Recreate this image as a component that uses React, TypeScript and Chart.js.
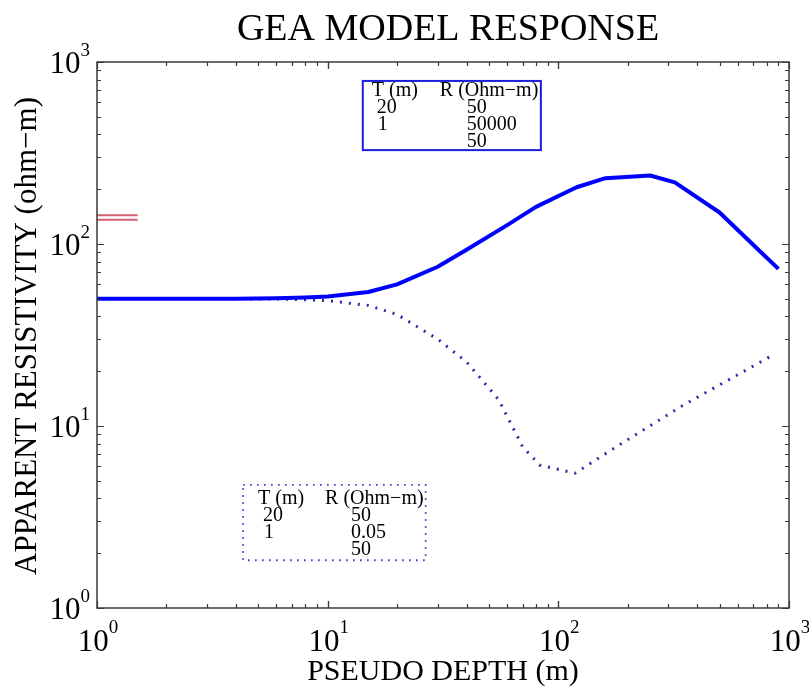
import React, { useEffect, useRef } from "react";
import { Chart, registerables } from "chart.js";

Chart.register(...registerables);

// ---- data ----
const depthA = [1, 2, 4, 6, 8, 10, 15, 20, 30, 40, 60, 80, 120, 160, 250, 320, 500, 750, 900];
const rhoA = [50, 50, 50, 50.3, 50.8, 51.5, 54.5, 60, 75, 93, 127, 160, 205, 230, 238, 218, 149, 91, 73];
const depthB = [1, 2, 4, 6, 8, 10, 15, 20, 30, 40, 55, 70, 83, 118, 173, 340, 850];
const rhoB = [50, 50, 50, 49.8, 49.4, 48.8, 46, 41, 30, 22.5, 14, 7.7, 6.1, 5.5, 7.5, 12.8, 24.5];
const markerDepth = [1, 1.5];
const markerUpper = [144, 144];
const markerLower = [136, 136];
const decadeValues = [1, 10, 100, 1000];
const decadeExponents = ["0", "1", "2", "3"];
const modelHeader = ["T (m)", "R (Ohm\u2212m)"];
const thicknessA = ["20", "1", ""];
const resistA = ["50", "50000", "50"];
const thicknessB = ["20", "1", ""];
const resistB = ["50", "0.05", "50"];

const TITLE = "GEA MODEL RESPONSE";
const XLABEL = "PSEUDO DEPTH (m)";
const YLABEL = "APPARENT RESISTIVITY (ohm\u2212m)";

const SERIF = '"Liberation Serif", "Times New Roman", serif';

const decoPlugin = {
  id: "deco",
  afterDatasetsDraw(chart: any) {
    const { ctx, chartArea: a, scales } = chart;
    const xs = scales.x;
    const ys = scales.y;
    ctx.save();
    // frame
    ctx.strokeStyle = "#3a3a3a";
    ctx.lineWidth = 1.5;
    ctx.setLineDash([]);
    ctx.strokeRect(a.left, a.top, a.right - a.left, a.bottom - a.top);
    // ticks (inward, all four sides)
    ctx.lineWidth = 1.2;
    for (let d = 0; d < 3; d++) {
      for (let m = 1; m <= 10; m++) {
        const v = decadeValues[d] * m;
        const major = m === 1 || m === 10;
        const len = major ? 7 : 4;
        const px = Math.round(xs.getPixelForValue(v)) + 0.5;
        const py = Math.round(ys.getPixelForValue(v)) + 0.5;
        ctx.beginPath();
        ctx.moveTo(px, a.bottom);
        ctx.lineTo(px, a.bottom - len);
        ctx.moveTo(px, a.top);
        ctx.lineTo(px, a.top + len);
        ctx.moveTo(a.left, py);
        ctx.lineTo(a.left + len, py);
        ctx.moveTo(a.right, py);
        ctx.lineTo(a.right - len, py);
        ctx.stroke();
      }
    }
    // tick labels
    ctx.fillStyle = "#000";
    const bigFont = "31px " + SERIF;
    const supFont = "19px " + SERIF;
    decadeValues.forEach((v, i) => {
      const exp = decadeExponents[i];
      ctx.font = bigFont;
      const w1 = ctx.measureText("10").width;
      ctx.font = supFont;
      const w2 = ctx.measureText(exp).width;
      // x labels
      const px = xs.getPixelForValue(v);
      const start = px - (w1 + w2) / 2 + 1;
      ctx.textAlign = "left";
      ctx.textBaseline = "alphabetic";
      ctx.font = bigFont;
      ctx.fillText("10", start, a.bottom + 43);
      ctx.font = supFont;
      ctx.fillText(exp, start + w1, a.bottom + 25);
      // y labels
      const py = ys.getPixelForValue(v);
      const right = a.left - 7;
      ctx.font = supFont;
      ctx.fillText(exp, right - w2, py - 6);
      ctx.font = bigFont;
      ctx.fillText("10", right - w2 - w1, py + 11);
    });
    // title
    ctx.textAlign = "center";
    ctx.font = "38px " + SERIF;
    ctx.fillText(TITLE, (a.left + a.right) / 2 + 5, 40);
    // x label
    ctx.font = "30px " + SERIF;
    ctx.fillText(XLABEL, (a.left + a.right) / 2, a.bottom + 72);
    // y label
    ctx.save();
    ctx.translate(36, (a.top + a.bottom) / 2 + 1);
    ctx.rotate(-Math.PI / 2);
    ctx.font = "31px " + SERIF;
    ctx.fillText(YLABEL, 0, 0);
    ctx.restore();

    // model boxes
    const drawBox = (
      x0: number, x1: number, y0: number, y1: number, dotted: boolean,
      tCol: string[], rCol: string[], off: any
    ) => {
      const L = xs.getPixelForValue(x0);
      const R = xs.getPixelForValue(x1);
      const T = ys.getPixelForValue(y0);
      const B = ys.getPixelForValue(y1);
      ctx.save();
      if (dotted) {
        ctx.strokeStyle = "#2c2cc0";
        ctx.lineWidth = 1.8;
        ctx.setLineDash([1.5, 5.5]);
      } else {
        ctx.strokeStyle = "#1c1cdc";
        ctx.lineWidth = 2;
        ctx.setLineDash([]);
      }
      ctx.strokeRect(L, T, R - L, B - T);
      ctx.restore();
      ctx.fillStyle = "#000";
      ctx.textAlign = "left";
      ctx.font = "20px " + SERIF;
      ctx.fillText(modelHeader[0], L + off.t, T + off.h);
      ctx.fillText(modelHeader[1], L + off.r, T + off.h);
      for (let k = 0; k < 3; k++) {
        const by = T + off.h + off.step * (k + 1);
        if (tCol[k]) ctx.fillText(tCol[k], L + off.c1 + (tCol[k].length === 1 ? 1 : 0), by);
        if (rCol[k]) ctx.fillText(rCol[k], L + off.c2, by);
      }
    };
    drawBox(14.2, 84, 787, 328, false, thicknessA, resistA, { t: 9, r: 77, h: 15, step: 17, c1: 14, c2: 104 });
    drawBox(4.3, 26.6, 4.75, 1.83, true, thicknessB, resistB, { t: 15, r: 82, h: 19, step: 17, c1: 20, c2: 108 });
    ctx.restore();
  },
};

export default function App() {
  const ref = useRef<HTMLCanvasElement | null>(null);
  useEffect(() => {
    if (!ref.current) return;
    const chart = new Chart(ref.current, {
      type: "line",
      data: {
        datasets: [
          {
            label: "resistive layer",
            data: depthA.map((x, i) => ({ x, y: rhoA[i] })),
            borderColor: "#0000ff",
            borderWidth: 4,
            pointRadius: 0,
            tension: 0,
            fill: false,
            borderJoinStyle: "round",
          },
          {
            label: "conductive layer",
            data: depthB.map((x, i) => ({ x, y: rhoB[i] })),
            borderColor: "#2a2aa8",
            borderWidth: 3,
            borderDash: [2, 7],
            pointRadius: 0,
            tension: 0,
            fill: false,
          },
          {
            label: "marker upper",
            data: markerDepth.map((x, i) => ({ x, y: markerUpper[i] })),
            borderColor: "#d06072",
            borderWidth: 2,
            pointRadius: 0,
            fill: false,
          },
          {
            label: "marker lower",
            data: markerDepth.map((x, i) => ({ x, y: markerLower[i] })),
            borderColor: "#d06072",
            borderWidth: 2,
            pointRadius: 0,
            fill: false,
          },
        ],
      },
      options: {
        responsive: false,
        animation: false,
        layout: { padding: { left: 97, top: 62, right: 20, bottom: 79 } },
        scales: {
          x: { type: "logarithmic", min: 1, max: 1000, display: false },
          y: { type: "logarithmic", min: 1, max: 1000, display: false },
        },
        plugins: {
          legend: { display: false },
          tooltip: { enabled: false },
          title: { display: false },
        },
      },
      plugins: [decoPlugin],
    } as any);
    return () => chart.destroy();
  }, []);
  return (
    <div style={{ position: "absolute", left: 0, top: 0, width: 809, height: 687, background: "#fff" }}>
      <canvas ref={ref} width={809} height={687} style={{ display: "block" }} />
    </div>
  );
}
